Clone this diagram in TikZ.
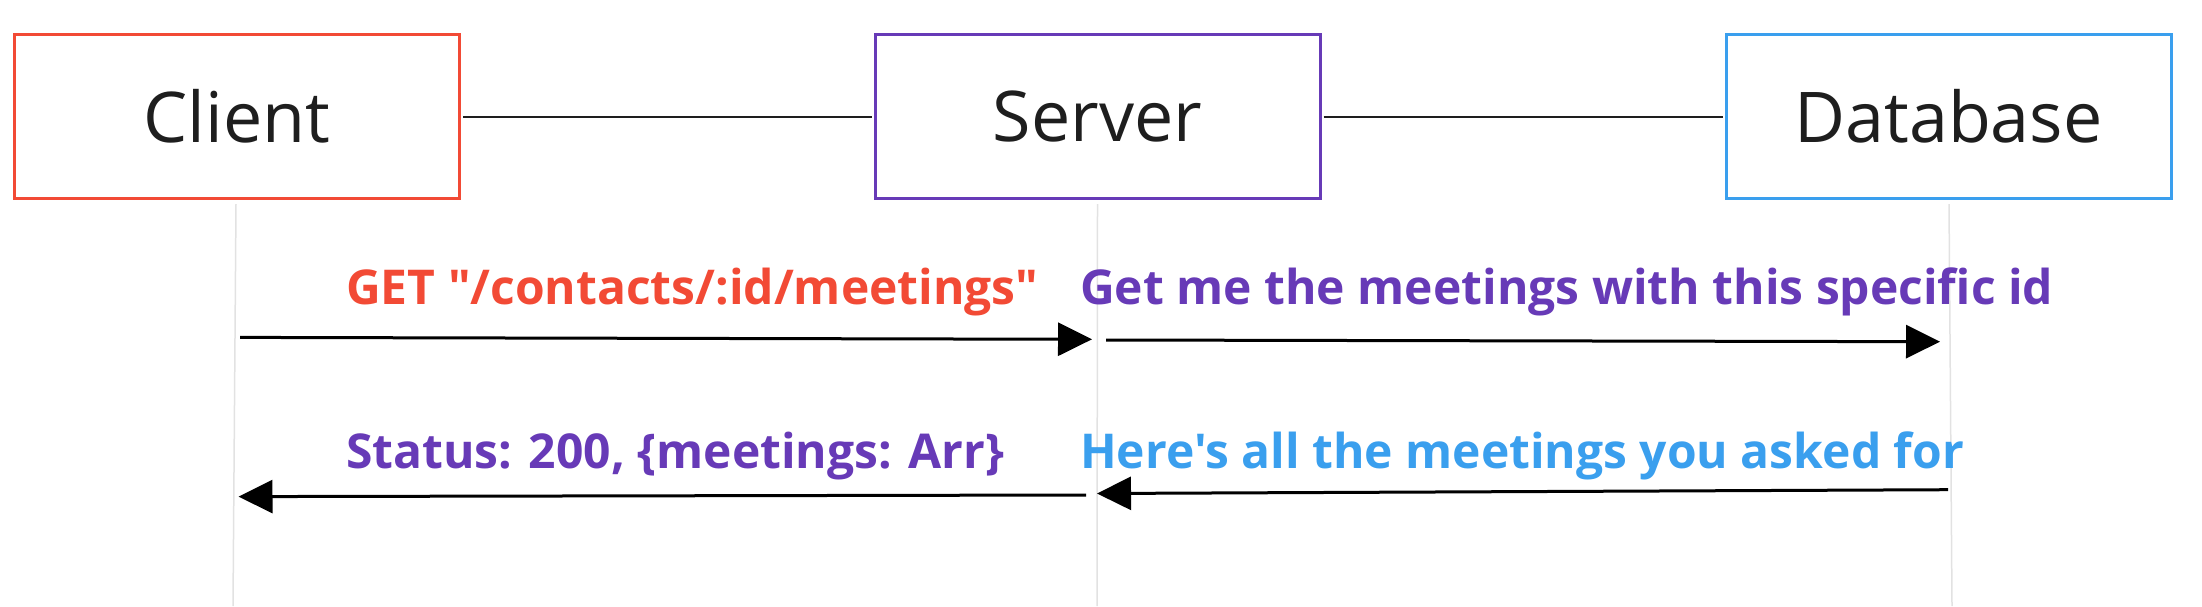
\documentclass[tikz,border=0pt]{standalone}
\usepackage{fontspec}
\setmainfont{Open Sans}[Ligatures=TeXOff]
\usetikzlibrary{arrows.meta}
\definecolor{cred}{HTML}{F24A35}
\definecolor{cpurple}{HTML}{673AB7}
\definecolor{cblue}{HTML}{3A9FEE}
\definecolor{ctext}{HTML}{1E1E1E}
\definecolor{clife}{HTML}{E2E2E2}
\tikzset{
  actor/.style={draw, line width=3pt, minimum width=445pt, minimum height=164pt, inner sep=0pt,
    font=\fontsize{70}{78}\selectfont, text=ctext},
  link/.style={line width=2pt, draw=ctext},
  lifeline/.style={line width=1.5pt, draw=clife},
  msg/.style={line width=3pt, -{Triangle[length=34pt,width=33pt]}},
  msglabel/.style={anchor=base west, inner sep=0pt, font=\fontsize{48}{52}\selectfont\bfseries}
}
\begin{document}
\begin{tikzpicture}[x=1pt,y=-1pt]
\useasboundingbox (0,0) rectangle (2202,606);
\node[actor, draw=cred] (client) at (237,116.5) {Client};
\node[actor, draw=cpurple] (server) at (1097.5,116.5) {Server};
\node[actor, draw=cblue] (db) at (1948.5,116.5) {Database};
\draw[link] ([xshift=2pt]client.east) -- ([xshift=-2pt]server.west);
\draw[link] ([xshift=2pt]server.east) -- ([xshift=-2pt]db.west);
\coordinate (cbot) at (233,606);
\coordinate (sbot) at (1097,606);
\coordinate (dbot) at (1952,606);
\draw[lifeline] ([yshift=-4pt]client.south -| 236,0) -- (cbot);
\draw[lifeline] ([yshift=-4pt]server.south) -- (sbot);
\draw[lifeline] ([yshift=-4pt]db.south -| 1949,0) -- (dbot);
\coordinate (a1s) at (240,337.4);
\coordinate (a1e) at (1092,339.3);
\coordinate (a2s) at (1106,340);
\coordinate (a2e) at (1940,341.7);
\coordinate (a3s) at (1948,489.7);
\coordinate (a3e) at (1097,493.5);
\coordinate (a4s) at (1086,495);
\coordinate (a4e) at (238.5,496.6);
\draw[msg] (a1s) -- (a1e);
\draw[msg] (a2s) -- (a2e);
\draw[msg] (a3s) -- (a3e);
\draw[msg] (a4s) -- (a4e);
\node[msglabel, text=cred] (l1) at (346,304) {GET "/contacts/:id/meetings"};
\node[msglabel, text=cpurple] (l2) at (1080,304) {Get me the meetings with this specific id};
\node[msglabel, text=cpurple] (l3) at (346,468.6) {Status: 200, \{meetings: Arr\}};
\node[msglabel, text=cblue] (l4) at (1080,468.6) {Here's all the meetings you asked for};
\end{tikzpicture}
\end{document}
